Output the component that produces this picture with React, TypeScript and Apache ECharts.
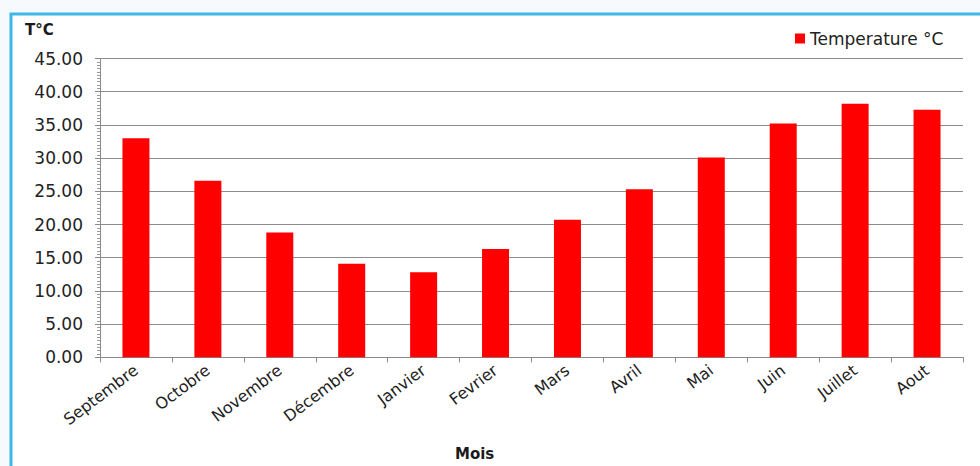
import React, { useEffect, useRef } from "react";
import * as echarts from "echarts";

const months = [
  "Septembre", "Octobre", "Novembre", "Décembre", "Janvier", "Fevrier",
  "Mars", "Avril", "Mai", "Juin", "Juillet", "Aout",
];
const temperature = [33.0, 26.6, 18.8, 14.1, 12.8, 16.3, 20.7, 25.3, 30.1, 35.2, 38.2, 37.3];
const seriesName = "Temperature °C";
const yTitle = "T°C";
const xTitle = "Mois";

const FONT = "'DejaVu Sans', 'Open Sans', sans-serif";

export default function App() {
  const ref = useRef<HTMLDivElement>(null);
  useEffect(() => {
    if (!ref.current) return;
    const chart = echarts.init(ref.current, undefined, { renderer: "svg" });
    chart.setOption({
      animation: false,
      backgroundColor: "#f6fafc",
      textStyle: { fontFamily: FONT },
      graphic: [
        {
          type: "rect",
          z: -10,
          shape: { x: 11, y: 14, width: 1000, height: 480 },
          style: { fill: "#ffffff", stroke: "#3db8e8", lineWidth: 3 },
          silent: true,
        },
        {
          type: "text",
          left: 25,
          top: 22,
          style: { text: yTitle, fontSize: 15, fontWeight: "bold", fill: "#1a1a1a", fontFamily: FONT },
        },
        {
          type: "text",
          left: 455,
          top: 446,
          style: { text: xTitle, fontSize: 15, fontWeight: "bold", fill: "#1a1a1a", fontFamily: FONT },
        },
      ],
      legend: {
        left: 790,
        top: 25,
        icon: "rect",
        itemWidth: 10,
        itemHeight: 10,
        itemGap: 6,
        textStyle: { fontSize: 17, color: "#222", fontFamily: FONT },
        data: [seriesName],
      },
      grid: { left: 100, right: 17, top: 58.5, bottom: 108.7, containLabel: false },
      xAxis: {
        type: "category",
        data: months,
        axisLine: { show: true, lineStyle: { color: "#8a8a8a", width: 1 } },
        axisTick: { show: true, length: 5, alignWithLabel: false, lineStyle: { color: "#8a8a8a" } },
        axisLabel: { interval: 0, rotate: 37, fontSize: 16, color: "#222", margin: 11, fontFamily: FONT },
        splitLine: { show: false },
      },
      yAxis: {
        type: "value",
        min: 0,
        max: 45,
        interval: 5,
        axisLine: { show: true, lineStyle: { color: "#8a8a8a", width: 1 } },
        axisTick: { show: true, length: 5, lineStyle: { color: "#8a8a8a" } },
        minorTick: { show: true, splitNumber: 10, length: 3, lineStyle: { color: "#9a9a9a" } },
        axisLabel: {
          fontSize: 17,
          color: "#222",
          margin: 17,
          fontFamily: FONT,
          formatter: (v: number) => v.toFixed(2),
        },
        splitLine: { show: true, lineStyle: { color: "#8c8c8c", width: 1.2 } },
      },
      series: [
        {
          name: seriesName,
          type: "bar",
          data: temperature,
          barWidth: 27,
          itemStyle: { color: "#ff0000" },
        },
      ],
    });
    return () => chart.dispose();
  }, []);
  return <div ref={ref} style={{ position: "fixed", left: 0, top: 0, width: 980, height: 466 }} />;
}
